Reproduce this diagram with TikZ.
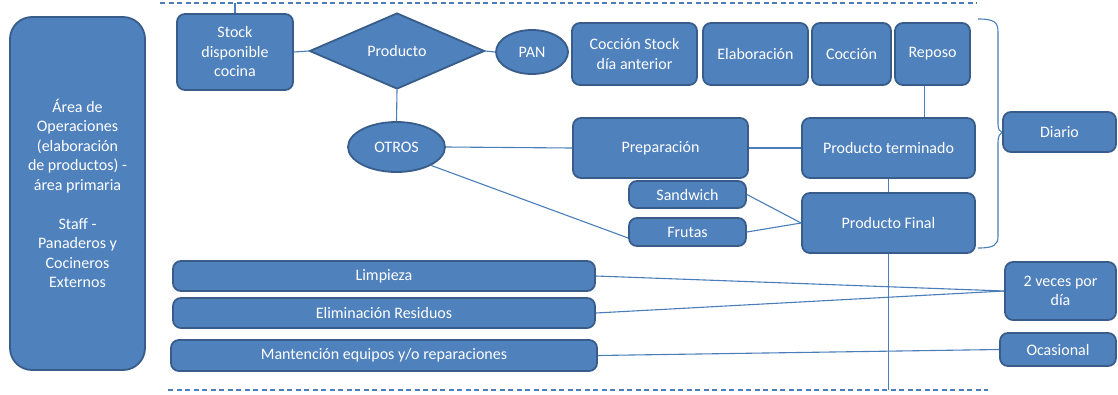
\documentclass[tikz,border=0pt]{standalone}
\usepackage{fontspec}
\setmainfont{Carlito}
\usetikzlibrary{shapes.geometric}
\definecolor{fillb}{HTML}{4F81BD}
\definecolor{edgeb}{HTML}{385D8A}
\definecolor{lineb}{HTML}{4A7EBB}
\begin{document}
\begin{tikzpicture}[x=1pt,y=-1pt,
  box/.style={draw=edgeb, line width=1.8, fill=fillb, rounded corners=8, text=white, align=center, inner sep=0, font=\fontsize{16}{19.5}\selectfont},
  bigbox/.style={box, rounded corners=22},
  oval/.style={box, shape=ellipse, rounded corners=0},
  rhomb/.style={box, shape=diamond, rounded corners=0},
  conn/.style={draw=lineb, line width=1.1},
  dashline/.style={draw=lineb, line width=1.2, dash pattern=on 5pt off 3.5pt}
]
\useasboundingbox (0,0) rectangle (1118,394);
\fill[white] (0,0) rectangle (1118,394);

% dashed border lines
\coordinate (tl) at (160,3);
\coordinate (tr) at (977,3);
\coordinate (bl) at (168,390);
\coordinate (br) at (988,390);
\draw[dashline] (tl) -- (tr);
\draw[dashline] (bl) -- (br);

% left area box
\node[bigbox, minimum width=135, minimum height=353] (area) at (77.5,193.5)
  {Área de\\Operaciones\\(elaboración\\de productos) -\\área primaria\\[19.5pt]Staff -\\Panaderos y\\Cocineros\\Externos};

% top row
\node[box, minimum width=116, minimum height=76] (stock) at (235,52) {Stock\\disponible\\cocina};
\node[rhomb, minimum width=175, minimum height=76] (prod) at (397,51) {Producto};
\node[oval, minimum width=72, minimum height=44] (pan) at (532,52) {PAN};
\node[box, minimum width=125, minimum height=62] (cstock) at (634.5,54) {Cocción Stock\\día anterior};
\node[box, minimum width=105, minimum height=62] (elab) at (755.5,54) {Elaboración};
\node[box, minimum width=79, minimum height=62] (cocc) at (851.5,54) {Cocción};
\node[box, minimum width=75, minimum height=62] (repo) at (932.5,54) {Reposo};

% middle
\node[oval, minimum width=97, minimum height=50] (otros) at (396.5,147) {OTROS};
\node[box, minimum width=175, minimum height=60] (prep) at (660.5,148) {Preparación};
\node[box, minimum width=173, minimum height=60] (term) at (888.5,148) {Producto terminado};

% connectors behind lower boxes
\draw[conn] (term.south) -- (term.south |- bl);
\draw[conn] (stock.north) -- (stock.north |- tl);
\draw[conn] (stock.east) -- (prod.west);
\draw[conn] (prod.east) -- (pan.west);
\draw[conn] (prod.south) -- (otros.north);
\draw[conn] ([xshift=-8]repo.south) -- ([xshift=-8]repo.south |- term.north);
\draw[conn] (otros.east) -- (prep.west);
\draw[conn] (prep.east) -- (term.west);

\node[box, minimum width=117, minimum height=27] (sand) at (687.5,194.5) {Sandwich};
\node[box, minimum width=117, minimum height=28] (frut) at (687.5,232) {Frutas};
\node[box, minimum width=173, minimum height=60] (final) at (888.5,223) {Producto Final};

\draw[conn] (otros.-28) -- ([yshift=-6]frut.west);
\draw[conn] (sand.east) -- (final.west);
\draw[conn] (frut.east) -- (final.west);

% right column
\node[box, minimum width=113, minimum height=40] (diario) at (1059.5,132) {Diario};
\node[box, minimum width=111, minimum height=58] (dos) at (1060.5,291) {2 veces por\\día};
\node[box, minimum width=116, minimum height=33] (ocas) at (1058,349.5) {Ocasional};

% brace
\draw[conn] (978,19) .. controls (994,19) and (998,22) .. (998,32) -- (998,124)
  .. controls (998,130) and (1000,132) .. (diario.west)
  .. controls (1000,134) and (998,136) .. (998,142) -- (998,236)
  .. controls (998,245) and (994,248) .. (978,248);

% bottom rows
\node[box, minimum width=422, minimum height=30] (limp) at (384,276) {Limpieza};
\node[box, minimum width=422, minimum height=30] (elim) at (384,313) {Eliminación Residuos};
\node[box, minimum width=426, minimum height=31] (mant) at (384,355.5) {Mantención equipos y/o reparaciones};

\draw[conn] (limp.east) -- (dos.west);
\draw[conn] (elim.east) -- (dos.west);
\draw[conn] (mant.east) -- (ocas.west);
\end{tikzpicture}
\end{document}
